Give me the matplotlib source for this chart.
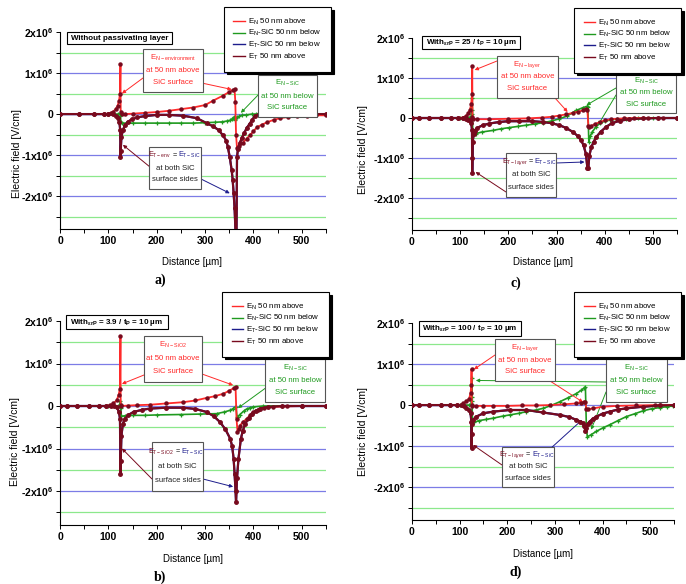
import numpy as np
import matplotlib
matplotlib.use('Agg')
import matplotlib.pyplot as plt
from matplotlib.patches import Rectangle
from matplotlib.lines import Line2D

plt.rcParams['font.family'] = ['Liberation Sans', 'DejaVu Sans']
plt.rcParams['mathtext.fontset'] = 'custom'
plt.rcParams['mathtext.rm'] = 'Liberation Sans'
plt.rcParams['mathtext.default'] = 'regular'

W, H = 686, 584

# ---- data, distance in um, field in 1e6 V/cm ----
# a) without passivating layer
a_en_x = [0, 40, 70, 90, 100, 105, 110, 115, 119, 122, 124, 125, 125.5, 128, 135, 150, 175, 200, 225, 250,
          275, 300, 317, 337, 350, 358, 361, 362.5, 364, 366, 370, 378, 386, 393, 400, 407, 417, 428, 442,
          455, 472, 490, 510, 530, 550]
a_en_y = [0, 0, 0, 0, 0.01, 0.03, 0.06, 0.12, 0.2, 0.32, 0.5, 1.22, 0.05, 0.0, 0.0, 0.01, 0.03, 0.05, 0.08,
          0.12, 0.16, 0.22, 0.33, 0.45, 0.54, 0.59, 0.6, 0.3, -0.5, -0.83, -0.78, -0.7, -0.6, -0.51, -0.42,
          -0.32, -0.26, -0.2, -0.14, -0.1, -0.07, -0.05, -0.04, -0.03, -0.03]
a_ens_x = [0, 40, 70, 90, 100, 120, 124, 125, 126, 128, 150, 175, 200, 225, 250, 275, 300, 320, 335, 345,
           352, 356, 358, 360, 362, 364, 367, 371, 376, 385, 397, 405, 420, 450, 500, 550]
a_ens_y = [0, 0, 0, 0, 0, 0, 0, -0.05, -0.2, -0.22, -0.22, -0.22, -0.22, -0.22, -0.22, -0.22, -0.21, -0.2,
           -0.19, -0.17, -0.15, -0.12, -0.1, -0.08, -0.14, -0.1, -0.07, -0.05, -0.03, -0.02, 0, 0, 0, 0, 0, 0]
a_et_x = [0, 40, 70, 90, 100, 110, 116, 120, 123, 124.5, 125, 125.5, 127, 130, 134, 140, 148, 160, 175, 200,
          225, 255, 283, 303, 317, 328, 337, 344, 347, 351, 355, 357, 359, 361, 363, 364, 365, 366, 368,
          372, 376, 381, 386, 392, 397, 403, 412, 430, 460, 500, 550]
a_et_y = [0, 0, 0, 0, 0, -0.01, -0.04, -0.1, -0.2, -0.4, -1.05, -0.9, -0.55, -0.4, -0.27, -0.19, -0.13,
          -0.08, -0.05, -0.02, -0.02, -0.04, -0.1, -0.22, -0.3, -0.39, -0.52, -0.65, -0.8, -1.05, -1.37,
          -1.6, -1.93, -2.3, -2.9, -2.9, -2.9, -1.05, -0.85, -0.7, -0.58, -0.46, -0.34, -0.24, -0.15, -0.04,
          -0.01, 0, 0, 0, 0]

# c) eps = 25 / t = 10 um
c_en_x = [0, 15, 35, 60, 80, 95, 105, 112, 117, 120, 123, 124.5, 125, 125.5, 127, 135, 160, 200, 240, 270,
          290, 305, 320, 335, 345, 355, 362, 364, 366, 368, 372, 380, 390, 400, 412, 425, 440, 460, 490,
          520, 550]
c_en_y = [0, 0, 0, 0, 0, 0, 0.01, 0.05, 0.12, 0.2, 0.35, 0.6, 1.3, 0.02, -0.02, -0.03, -0.03, -0.02, -0.01,
          0.01, 0.03, 0.06, 0.09, 0.13, 0.16, 0.19, 0.22, 0.2, -0.2, -0.22, -0.2, -0.15, -0.1, -0.06, -0.03,
          -0.02, -0.01, 0, 0, 0, 0]
c_ens_x = [0, 60, 100, 120, 123, 124.5, 125, 125.5, 126, 127, 133, 145, 168, 185, 202, 220, 237, 255, 271,
           288, 306, 322, 341, 355, 363, 365, 367, 370, 374, 382, 390, 400, 411, 425, 445, 470, 500, 550]
c_ens_y = [0, 0, 0, 0.01, 0.05, 0.2, 0.5, 0.1, -0.3, -0.43, -0.39, -0.35, -0.31, -0.27, -0.24, -0.21, -0.18,
           -0.15, -0.12, -0.08, -0.02, 0.05, 0.19, 0.26, 0.29, 0.27, -0.6, -0.45, -0.35, -0.22, -0.13, -0.08,
           -0.05, -0.03, -0.02, -0.01, 0, 0]
c_et_x = [0, 15, 35, 60, 80, 95, 105, 112, 117, 120, 123, 124.5, 125, 125.5, 126, 128, 130, 135, 147, 160,
          181, 200, 223, 250, 271, 290, 306, 320, 334, 344, 351, 356, 361, 364, 366, 368, 372, 377, 382, 392,
          403, 415, 431, 451, 480, 510, 550]
c_et_y = [0, 0, 0, 0, 0, 0, -0.01, -0.02, -0.04, -0.06, -0.12, -0.3, -1.37, -1.0, -0.6, -0.4, -0.32, -0.25,
          -0.18, -0.14, -0.1, -0.08, -0.08, -0.08, -0.1, -0.13, -0.18, -0.25, -0.35, -0.45, -0.56, -0.68,
          -0.9, -1.25, -1.25, -0.95, -0.73, -0.6, -0.48, -0.34, -0.22, -0.13, -0.07, -0.03, -0.01, 0, 0]

# b) eps = 3.9 / t = 10 um
b_en_x = [0, 15, 35, 60, 80, 95, 103, 110, 117, 121, 124, 125, 125.5, 127, 140, 160, 186, 220, 255, 280,
          303, 320, 338, 350, 359, 363, 365, 367, 370, 372, 378, 386, 393, 400, 410, 421, 440, 470, 500, 550]
b_en_y = [0, 0, 0, 0, 0, 0, 0.02, 0.06, 0.13, 0.25, 0.41, 1.65, 0.02, 0.0, 0.01, 0.02, 0.03, 0.06, 0.09,
          0.13, 0.19, 0.23, 0.29, 0.36, 0.42, 0.45, -0.3, -0.6, -0.55, -0.46, -0.38, -0.3, -0.22, -0.14,
          -0.09, -0.05, -0.02, -0.01, 0, 0]
b_ens_x = [0, 60, 100, 120, 124, 125, 125.5, 127, 135, 150, 175, 200, 250, 290, 324, 340, 352, 358, 362,
           364, 366, 368, 372, 380, 386, 393, 400, 420, 460, 500, 550]
b_ens_y = [0, 0, 0, 0, 0.02, 0.12, -0.05, -0.24, -0.23, -0.22, -0.22, -0.21, -0.2, -0.19, -0.18, -0.14,
           -0.1, -0.06, -0.03, -0.02, -0.26, -0.25, -0.2, -0.12, -0.07, -0.04, -0.02, 0, 0, 0, 0]
b_et_x = [0, 15, 35, 60, 80, 95, 105, 112, 117, 122, 124, 125, 125.5, 127, 130, 134, 140, 152, 170, 186,
          220, 255, 280, 303, 318, 331, 342, 352, 356, 359, 361, 363, 364, 366, 369, 374, 378, 383, 390, 397,
          405, 414, 430, 460, 500, 550]
b_et_y = [0, 0, 0, 0, 0, 0, -0.01, -0.01, -0.02, -0.14, -0.3, -1.6, -1.3, -0.7, -0.42, -0.3, -0.22, -0.14,
          -0.09, -0.06, -0.04, -0.04, -0.07, -0.14, -0.24, -0.38, -0.55, -0.77, -0.95, -1.24, -1.6, -2.0,
          -2.27, -1.7, -1.24, -0.77, -0.58, -0.42, -0.28, -0.18, -0.11, -0.06, -0.02, 0, 0, 0]

# d) eps = 100 / t = 10 um
d_en_x = [0, 15, 35, 60, 80, 95, 103, 107, 114, 120, 123, 124.5, 125, 125.5, 127, 135, 150, 170, 200, 230,
          260, 290, 320, 345, 355, 362, 364, 366, 370, 380, 401, 430, 470, 510, 550]
d_en_y = [0, 0, 0, 0, 0, 0, 0.01, 0.04, 0.09, 0.16, 0.3, 0.5, 0.88, 0.0, -0.02, -0.02, -0.02, -0.02, -0.02,
          -0.01, -0.01, 0.0, 0.02, 0.04, 0.06, 0.08, 0.08, -0.1, -0.1, -0.08, -0.04, -0.02, -0.01, 0, 0]
d_ens_x = [0, 60, 100, 120, 124, 125, 125.5, 126, 127, 130, 140, 155, 170, 190, 205, 225, 240, 260, 275,
           292, 310, 328, 345, 355, 362, 364, 366, 368, 375, 387, 400, 415, 432, 450, 468, 485, 503, 520,
           535, 548]
d_ens_y = [0, 0, 0, 0, 0.02, 0.2, 0.65, 0.1, -0.44, -0.42, -0.38, -0.35, -0.32, -0.27, -0.24, -0.2, -0.16,
           -0.12, -0.08, -0.01, 0.08, 0.18, 0.28, 0.36, 0.42, 0.44, -0.5, -0.77, -0.73, -0.64, -0.56, -0.48,
           -0.38, -0.28, -0.21, -0.14, -0.09, -0.06, -0.04, -0.02]
d_et_x = [0, 15, 35, 60, 80, 95, 105, 110, 114, 119, 123, 124.5, 125, 125.5, 126, 128, 135, 150, 170, 205,
          240, 275, 310, 330, 345, 353, 359, 362, 364, 366, 369, 373, 380, 387, 400, 415, 432, 450, 485,
          520, 550]
d_et_y = [0, 0, 0, 0, 0, 0, -0.01, -0.03, -0.08, -0.12, -0.2, -0.4, -1.05, -0.7, -0.45, -0.36, -0.28, -0.2,
          -0.16, -0.12, -0.12, -0.18, -0.24, -0.29, -0.36, -0.4, -0.44, -0.52, -0.64, -0.55, -0.46, -0.4,
          -0.33, -0.28, -0.21, -0.16, -0.11, -0.08, -0.04, -0.01, 0]

legend_labels = [r'E$_{N}$ 50 nm above', r'E$_{N}$-SiC 50 nm below',
                 r'E$_{T}$-SiC 50 nm below', r'E$_{T}$ 50 nm above']
ytick_vals = [-2, -1, 0, 1, 2]
ytick_labels = ['-2x10$^{6}$', '-1x10$^{6}$', '0', '1x10$^{6}$', '2x10$^{6}$']
grid_blue = [-2, -1, 0, 1]
grid_green = [-2.5, -1.5, -0.5, 0.5, 1.5]

RED = '#ff2a2a'
GREEN = '#1f9a1f'
BLUE = '#1c1c8c'
MAROON = '#780a1e'
BOX_EDGE = '#555555'


def fx(px):
    return px / W


def fy(py):
    return 1 - py / H


panels = [
    dict(rect=(60, 32, 326, 229), tag='a)', tag_px=(160, 280), ylab_px=(17, 153), xlab_px=(192, 262),
         series=(a_en_x, a_en_y, a_ens_x, a_ens_y, a_et_x, a_et_y),
         title='Without passivating layer', title_box=(67, 32, 172, 44), legend_px=(224, 7),
         red_box=(143, 49, 203, 92), red_head=r'E$_{N-environment}$',
         green_box=(258, 75, 317, 117), black_box=(149, 147, 201, 189), t_name='T-env',
         arrows=[(RED, (143, 78), (128, 0.5)), (RED, (197, 82), (355, 0.6)),
                 (GREEN, (260, 93), (374, 0.03)), (MAROON, (150, 167), (130, -0.75)),
                 (BLUE, (199, 178), (351, -1.93))]),
    dict(rect=(412, 38, 677, 230), tag='c)', tag_px=(516, 283), ylab_px=(363, 150), xlab_px=(543, 262),
         series=(c_en_x, c_en_y, c_ens_x, c_ens_y, c_et_x, c_et_y),
         title=r'With$_{εrP}$ = 25 / t$_{P}$ = 10 µm', title_box=(422, 36, 520, 49), legend_px=(574, 8),
         red_box=(497, 56, 558, 98), red_head=r'E$_{N-layer}$',
         green_box=(616, 73, 676, 113), black_box=(506, 153, 556, 197), t_name='T-layer',
         arrows=[(RED, (497, 61), (130, 1.2)), (RED, (555, 98), (323, 0.15)),
                 (GREEN, (616, 88), (362, 0.32)), (GREEN, (616, 95), (386, -0.18)),
                 (BLUE, (556, 163), (358, -1.1)), (MAROON, (506, 192), (132, -1.35))]),
    dict(rect=(60, 321, 326, 525), tag='b)', tag_px=(160, 577), ylab_px=(15, 442), xlab_px=(193, 559),
         series=(b_en_x, b_en_y, b_ens_x, b_ens_y, b_et_x, b_et_y),
         title=r'With$_{εrP}$ = 3.9 / t$_{P}$ = 10 µm', title_box=(66, 315, 168, 329), legend_px=(222, 292),
         red_box=(144, 336, 202, 382), red_head=r'E$_{N-SiO2}$',
         green_box=(265, 359, 325, 402), black_box=(152, 442, 203, 491), t_name='T-SiO2',
         arrows=[(RED, (144, 375), (128, 0.52)), (RED, (202, 374), (358, 0.49)),
                 (GREEN, (267, 387), (368, -0.05)), (MAROON, (152, 479), (128, -1.0)),
                 (BLUE, (203, 479), (358, -1.9))]),
    dict(rect=(412, 323, 674, 520), tag='d)', tag_px=(516, 572), ylab_px=(363, 432), xlab_px=(543, 554),
         series=(d_en_x, d_en_y, d_ens_x, d_ens_y, d_et_x, d_et_y),
         title=r'With$_{εrP}$ = 100 / t$_{P}$ = 10 µm', title_box=(419, 321, 521, 336), legend_px=(574, 292),
         red_box=(495, 339, 555, 381), red_head=r'E$_{N-layer}$',
         green_box=(606, 359, 667, 402), black_box=(502, 447, 554, 487), t_name='T-layer',
         arrows=[(RED, (495, 355), (130, 0.87)), (RED, (550, 381), (359, 0.07)),
                 (GREEN, (606, 382), (134, 0.6)), (GREEN, (606, 392), (376, -0.6)),
                 (MAROON, (502, 465), (128, -0.97)), (BLUE, (550, 449), (357, -0.36))]),
]


def add_box(fig, box, ec, lw=0.8):
    x0, y0, x1, y1 = box
    fig.add_artist(Rectangle((fx(x0), fy(y1)), (x1 - x0) / W, (y1 - y0) / H,
                             transform=fig.transFigure, fc='white', ec=ec, lw=lw, zorder=6))


def box_lines(fig, box, lines, color):
    x0, y0, x1, y1 = box
    cx = (x0 + x1) / 2
    h = y1 - y0
    for frac, txt in zip([0.2, 0.5, 0.78], lines):
        if txt is None:
            continue
        fig.text(fx(cx), fy(y0 + frac * h), txt, color=color, fontsize=5.6,
                 ha='center', va='center', zorder=7)


def draw_panel(fig, p):
    l, t, r, b = p['rect']
    ax = fig.add_axes([fx(l), fy(b), (r - l) / W, (b - t) / H])
    for lvl in grid_blue:
        ax.axhline(lvl * 1e6, color='#7c7ce6', lw=0.9, zorder=0)
    for lvl in grid_green:
        ax.axhline(lvl * 1e6, color='#8ce88c', lw=0.9, zorder=0)

    en_x, en_y, ens_x, ens_y, et_x, et_y = p['series']
    ax.plot(et_x, np.array(et_y) * 1e6, color=BLUE, lw=1.6, zorder=2)
    ax.plot(ens_x, np.array(ens_y) * 1e6, color=GREEN, lw=1.2, marker='+', ms=3.4, mew=0.9, zorder=3)
    ax.plot(en_x, np.array(en_y) * 1e6, color=RED, lw=1.3, marker='o', ms=2.2, mfc=MAROON, mec=MAROON,
            zorder=4)
    ax.plot(et_x, np.array(et_y) * 1e6, color=MAROON, lw=1.5, marker='o', ms=2.5, mfc=MAROON, mec=MAROON,
            zorder=5)

    ax.set_xlim(0, 550)
    ax.set_ylim(-2.8e6, 2e6)
    for side in ['top', 'right']:
        ax.spines[side].set_visible(False)
    for side in ['left', 'bottom']:
        ax.spines[side].set_linewidth(0.8)
    ax.set_xticks(range(0, 501, 100))
    ax.set_xticks(range(50, 551, 100), minor=True)
    ax.set_yticks([v * 1e6 for v in ytick_vals], ytick_labels)
    ax.set_yticks([v * 1e6 for v in grid_green], minor=True)
    ax.tick_params(which='both', direction='out', length=3, width=0.7, labelsize=7.5, pad=2)
    for lab in ax.get_xticklabels() + ax.get_yticklabels():
        lab.set_fontweight('bold')

    ax.set_xlabel('Distance [µm]', fontsize=7)
    ax.set_ylabel('Electric field [V/cm]', fontsize=7.5)
    ax.xaxis.label.set_va('center')
    ax.yaxis.label.set_va('center')
    xl, yl = p['xlab_px']
    ax.xaxis.set_label_coords((xl - l) / (r - l), (b - yl) / (b - t))
    xl, yl = p['ylab_px']
    ax.yaxis.set_label_coords((xl - l) / (r - l), (b - yl) / (b - t))

    fig.text(fx(p['tag_px'][0]), fy(p['tag_px'][1]), p['tag'], family='Liberation Serif',
             fontweight='bold', fontsize=10, ha='center', va='center')

    # title box
    add_box(fig, p['title_box'], 'black')
    x0, y0, x1, y1 = p['title_box']
    fig.text(fx((x0 + x1) / 2), fy((y0 + y1) / 2), p['title'], fontsize=5.8, fontweight='bold',
             ha='center', va='center', zorder=7)

    # callout boxes
    add_box(fig, p['red_box'], BOX_EDGE)
    box_lines(fig, p['red_box'], [p['red_head'], 'at 50 nm above', 'SiC surface'], RED)
    add_box(fig, p['green_box'], BOX_EDGE)
    box_lines(fig, p['green_box'], [r'E$_{N-SiC}$', 'at 50 nm below', 'SiC surface'], GREEN)
    add_box(fig, p['black_box'], BOX_EDGE)
    box_lines(fig, p['black_box'], [None, 'at both SiC', 'surface sides'], '#222222')
    x0, y0, x1, y1 = p['black_box']
    cx, cy = (x0 + x1) / 2, y0 + 0.2 * (y1 - y0)
    fig.text(fx(cx), fy(cy), '=', fontsize=5.2, ha='center', va='center', zorder=7)
    fig.text(fx(cx - 3.5), fy(cy), 'E$_{%s}$' % p['t_name'], color=MAROON, fontsize=5.2,
             ha='right', va='center', zorder=7)
    fig.text(fx(cx + 3.5), fy(cy), 'E$_{T-SiC}$', color=BLUE, fontsize=5.2,
             ha='left', va='center', zorder=7)

    for color, start, head in p['arrows']:
        ax.annotate('', xy=(head[0], head[1] * 1e6), xytext=(fx(start[0]), fy(start[1])),
                    textcoords='figure fraction', annotation_clip=False,
                    arrowprops=dict(arrowstyle='-|>', color=color, lw=0.7, mutation_scale=5,
                                    shrinkA=0, shrinkB=0))

    handles = [Line2D([], [], color=c, lw=1.0) for c in [RED, GREEN, BLUE, MAROON]]
    lx, ly = p['legend_px']
    leg = fig.legend(handles, legend_labels, loc='upper left', bbox_to_anchor=(fx(lx), fy(ly)),
                     bbox_transform=fig.transFigure, borderaxespad=0, fontsize=5.7, handlelength=1.5,
                     handletextpad=0.3, labelspacing=0.2, borderpad=1.2, fancybox=False,
                     shadow={'color': 'black', 'alpha': 1.0}, framealpha=1, edgecolor='black')
    leg.get_frame().set_linewidth(0.8)
    leg.set_zorder(8)
    return ax


fig = plt.figure(figsize=(W / 100, H / 100), dpi=100)
for panel in panels:
    draw_panel(fig, panel)
fig.savefig('out.png', dpi=100)
